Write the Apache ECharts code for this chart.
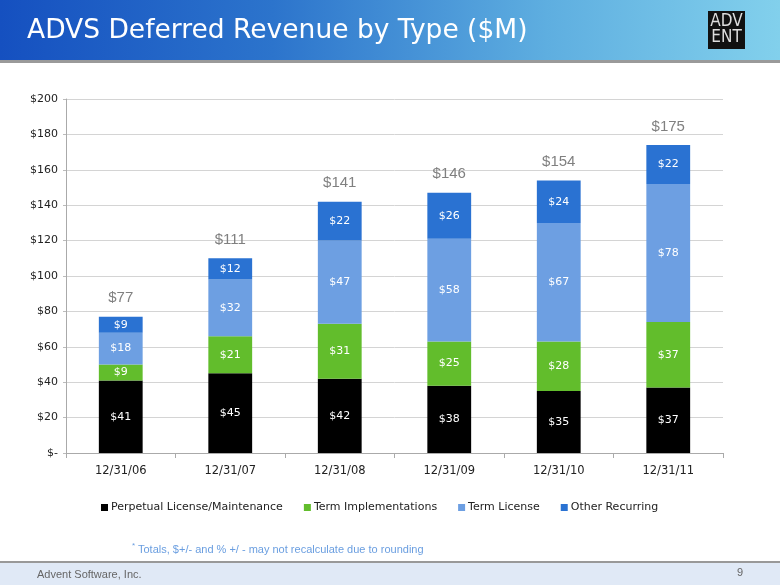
<!DOCTYPE html>
<html><head><meta charset="utf-8">
<script src="https://cdn.jsdelivr.net/npm/echarts@6/dist/echarts.min.js"></script>
<style>html,body{margin:0;padding:0;background:#fff}#c{width:780px;height:585px}</style>
</head><body><div id="c"></div>
<script>
var categories = ['12/31/06','12/31/07','12/31/08','12/31/09','12/31/10','12/31/11'];
var perpetual = [41,45,42,38,35,37];
var termImpl = [9,21,31,25,28,37];
var termLicense = [18,32,47,58,67,78];
var otherRec = [9,12,22,26,24,22];
var totals = [77,111,141,146,154,175];
var yTicks = ['$-','$20','$40','$60','$80','$100','$120','$140','$160','$180','$200'];

var chart = echarts.init(document.getElementById('c'), null, {renderer:'canvas'});
var segLabel = {show:true, position:'inside', color:'#fff', fontFamily:'DejaVu Sans', fontSize:11,
  formatter:function(p){return '$'+p.value;}};
function seg(name, data, color){
  return {name:name, type:'bar', stack:'s', data:data, barWidth:'40%',
    itemStyle:{color:color}, label:segLabel, emphasis:{disabled:true}};
}
var zeros = categories.map(function(){return 0;});
chart.setOption({
  animation:false,
  title:{text:'ADVS Deferred Revenue by Type ($M)', left:22, top:13,
    textStyle:{color:'#fff', fontFamily:'DejaVu Sans', fontSize:26.5, fontWeight:'normal'}},
  graphic:[
    {type:'rect', z:-1, shape:{x:0,y:0,width:780,height:60},
      style:{fill:new echarts.graphic.LinearGradient(0,0,1,0,[
        {offset:0,color:'#1550c0'},{offset:0.35,color:'#2c74cc'},{offset:0.7,color:'#5eaee0'},{offset:1,color:'#82d0ec'}])}},
    {type:'rect', z:-1, shape:{x:0,y:60,width:780,height:3}, style:{fill:'#9a9a9a'}},
    {type:'rect', shape:{x:708,y:11,width:37,height:38}, style:{fill:'#111'}},
    {type:'text', x:726.5, y:14, style:{text:'ADV\nENT', fill:'#ddd', font:'17px "DejaVu Sans ExtraLight", "DejaVu Sans Condensed"', lineHeight:16, align:'center'}},
    {type:'rect', z:-1, shape:{x:0,y:561,width:780,height:2}, style:{fill:'#999'}},
    {type:'rect', z:-1, shape:{x:0,y:563,width:780,height:22}, style:{fill:'#e0e9f6'}},
    {type:'text', left:37, top:569, style:{text:'Advent Software, Inc.', fill:'#666', font:'11px "Liberation Sans"'}},
    {type:'text', left:737, top:567, style:{text:'9', fill:'#666', font:'11px "Liberation Sans"'}},
    {type:'text', left:132, top:542, style:{text:'*', fill:'#6a9ee0', font:'8px "Liberation Sans"'}},
    {type:'text', left:138, top:544, style:{text:'Totals, $+/- and % +/ - may not recalculate due to rounding', fill:'#6a9ee0', font:'11px "Liberation Sans"'}}
  ],
  legend:{bottom:67, left:96, itemWidth:7, itemHeight:7, itemGap:21, icon:'rect',
    textStyle:{fontFamily:'DejaVu Sans', fontSize:11, color:'#222', padding:[0,0,0,-2]},
    data:['Perpetual License/Maintenance','Term Implementations','Term License','Other Recurring']},
  grid:{left:66, right:57, top:99, bottom:132},
  xAxis:{type:'category', data:categories,
    axisLine:{lineStyle:{color:'#aaa'}}, axisTick:{show:true, length:5, lineStyle:{color:'#aaa'}},
    axisLabel:{color:'#222', fontFamily:'DejaVu Sans', fontSize:11.5, margin:12}},
  yAxis:{type:'value', min:0, max:200, interval:20,
    axisLine:{show:true, lineStyle:{color:'#aaa'}}, axisTick:{show:true, length:3, lineStyle:{color:'#bbb'}},
    splitLine:{lineStyle:{color:'#d4d4d4'}},
    axisLabel:{color:'#222', fontFamily:'DejaVu Sans', fontSize:11, margin:8,
      formatter:function(v){return yTicks[Math.round(v/20)];}}},
  series:[
    seg('Perpetual License/Maintenance', perpetual, '#000000'),
    seg('Term Implementations', termImpl, '#62bd2c'),
    seg('Term License', termLicense, '#6d9fe2'),
    seg('Other Recurring', otherRec, '#2a72d2'),
    {name:'Total', type:'bar', stack:'s', data:zeros, barWidth:'40%', itemStyle:{color:'transparent'},
      label:{show:true, position:'top', distance:11, color:'#808080', fontFamily:'Liberation Sans', fontSize:15,
        formatter:function(p){return '$'+totals[p.dataIndex];}}}
  ]
});
</script></body></html>
